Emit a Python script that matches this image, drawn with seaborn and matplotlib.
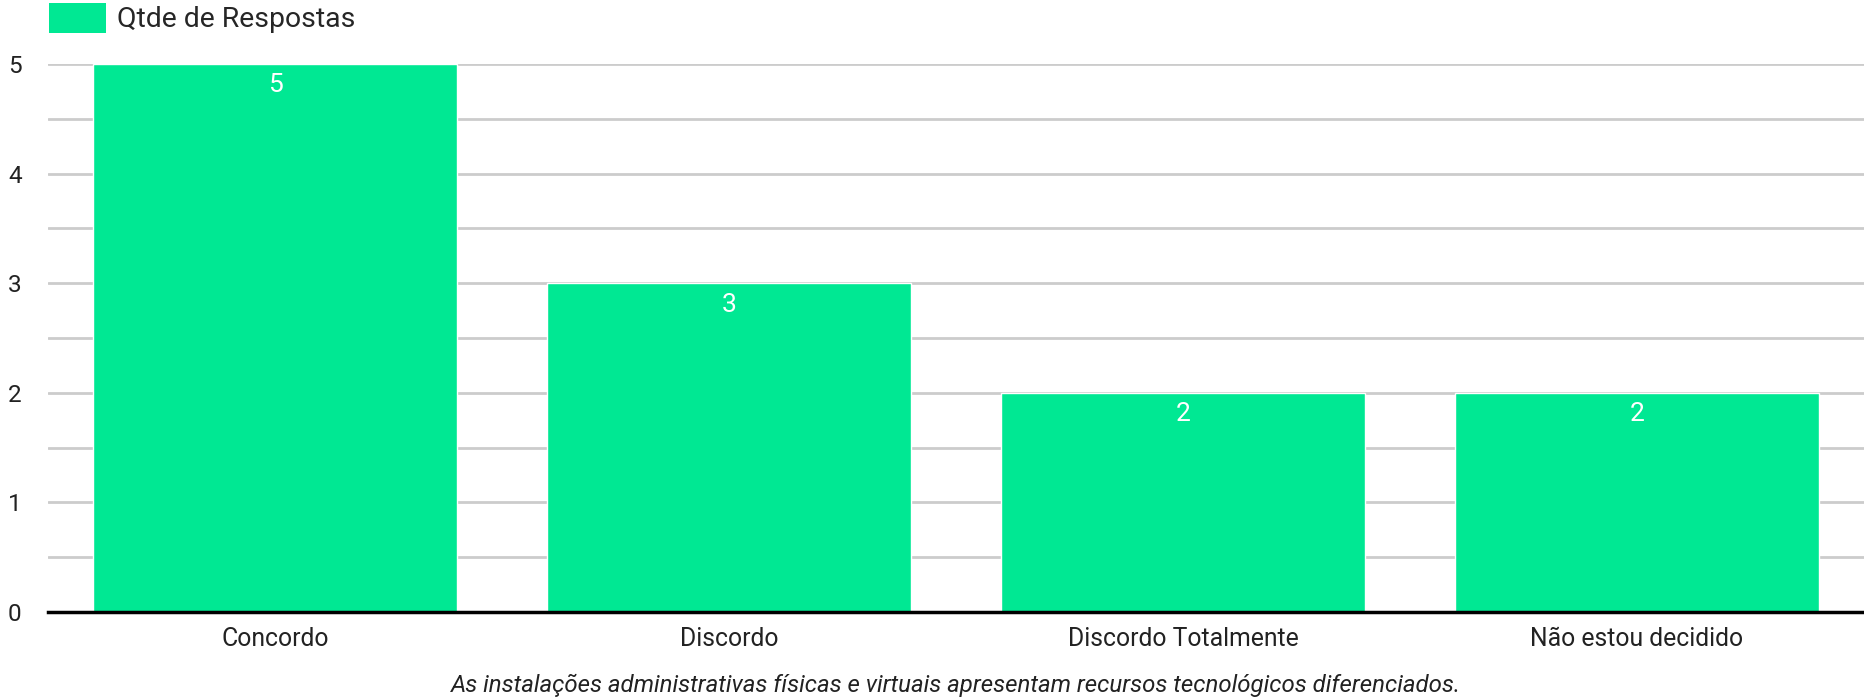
import pandas as pd
import matplotlib.pyplot as plt
import seaborn as sns
from matplotlib.patches import Patch

# Dados
categorias = ['Concordo', 'Discordo', 'Discordo Totalmente', 'Não estou decidido']
respostas = [5, 3, 2, 2]
rotulo_serie = 'Qtde de Respostas'
legenda_x = 'As instalações administrativas físicas e virtuais apresentam recursos tecnológicos diferenciados.'
ticks_y = [0, 1, 2, 3, 4, 5]

cor_barra = '#00e893'

sns.set_theme(style='white')
plt.rcParams['font.family'] = ['Roboto', 'DejaVu Sans']

df = pd.DataFrame({'categoria': categorias, 'valor': respostas})

fig = plt.figure(figsize=(18.64, 6.97), dpi=100)
ax = fig.add_axes([48 / 1864, 1 - 612 / 697, 1 - 48 / 1864, (612 - 64) / 697])

sns.barplot(data=df, x='categoria', y='valor', color=cor_barra, saturation=1,
            width=0.8, ax=ax, zorder=3)

ax.set_ylim(0, 5)
ax.set_xlim(-0.5, len(categorias) - 0.5)
ax.set_yticks(ticks_y)
ax.set_yticks([t + 0.5 for t in ticks_y[:-1]], minor=True)
ax.grid(axis='y', which='both', color='#cccccc', linewidth=2, zorder=0)
ax.set_axisbelow(True)
for s in ['top', 'right', 'left']:
    ax.spines[s].set_visible(False)
ax.spines['bottom'].set_color('black')
ax.spines['bottom'].set_linewidth(2.5)
ax.spines['bottom'].set_zorder(4)

ax.tick_params(axis='y', which='both', length=0, pad=19, labelsize=17.5, labelcolor='#222222')
ax.tick_params(axis='x', length=0, pad=11, labelsize=17.8, labelcolor='#222222')

ax.set_ylabel('')
ax.set_xlabel(legenda_x, fontsize=17.3, style='italic', color='#222222', labelpad=16)

for cont in ax.containers:
    ax.bar_label(cont, labels=[str(v) for v in respostas], padding=-24,
                 color='white', fontsize=19)

handle = Patch(facecolor=cor_barra, edgecolor='none')
fig.legend([handle], [rotulo_serie], loc='upper left', bbox_to_anchor=(38 / 1864, 1.012),
           frameon=False, fontsize=20.4, handlelength=2.0, handleheight=1.25,
           handletextpad=0.4, borderaxespad=0)

fig.savefig('out.png', dpi=100, facecolor='white')
